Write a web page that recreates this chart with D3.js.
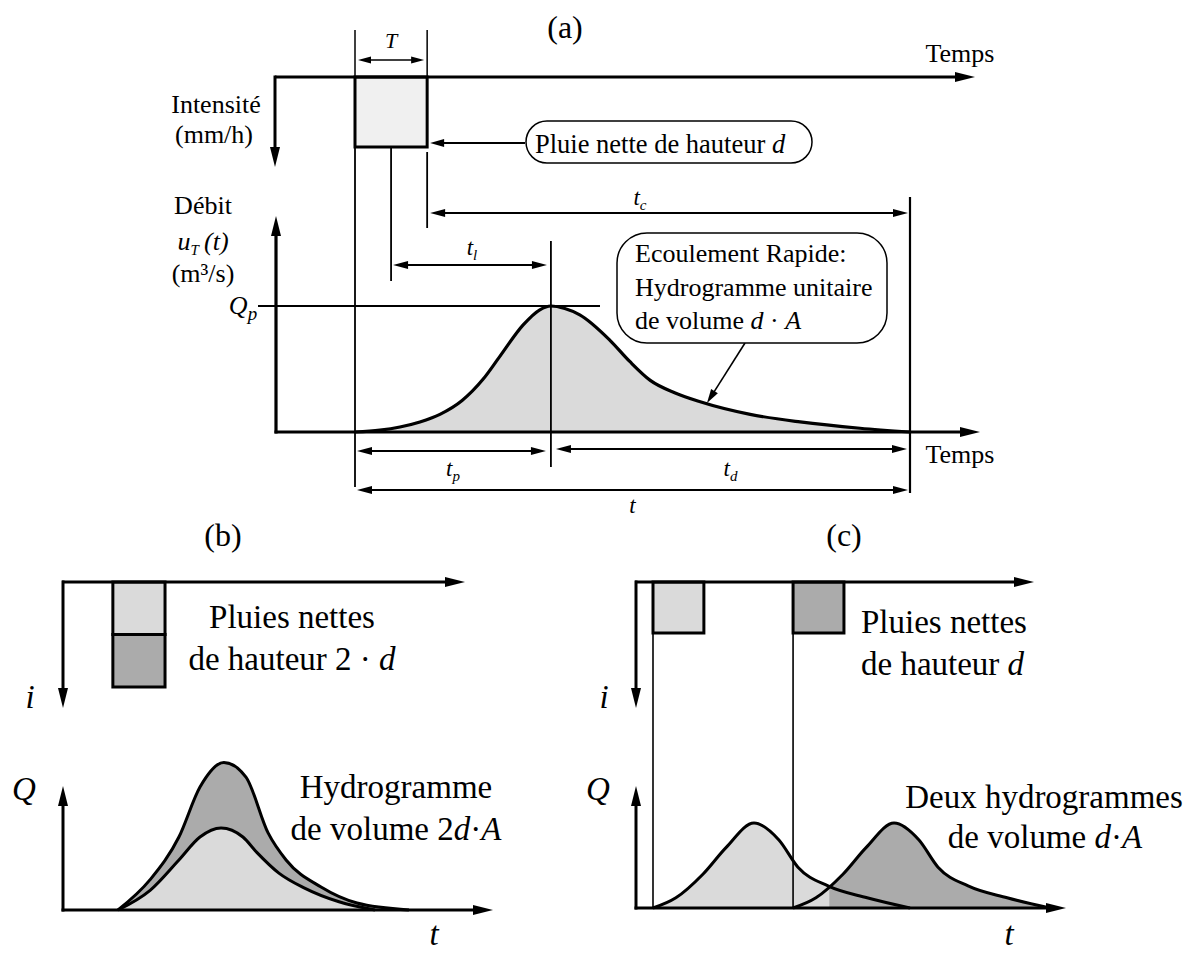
<!DOCTYPE html>
<html>
<head>
<meta charset="utf-8">
<script src="https://cdn.jsdelivr.net/npm/d3@7"></script>
<style>
  body { margin: 0; background: #fff; }
  text { font-family: "Liberation Serif", "DejaVu Serif", serif; fill: #000; }
</style>
</head>
<body>
<div id="chart"></div>
<script>
// ---- data (time in % of the unit hydrograph base, flow relative to unit peak) ----
// (a) unit hydrograph
const unitTime = [0, 4.5, 8.1, 11.7, 15.3, 19.3, 23.1, 26.1, 30.3, 33.3, 35.3, 37.8, 40.5, 45.9, 49.5, 53.2, 57.7, 62.2, 71.2, 80.2, 91, 100];
const unitFlow = [0, 0.015, 0.04, 0.08, 0.14, 0.25, 0.42, 0.60, 0.85, 0.97, 1, 0.98, 0.93, 0.73, 0.56, 0.41, 0.31, 0.24, 0.14, 0.08, 0.03, 0];
const rainA = [0, 13];          // start, end of net rain
const peakA = 35.3;             // time of peak

// (b) rain of depth 2d -> hydrograph of volume 2d·A
const singleTimeB = [0, 12.5, 23.7, 31.9, 40.1, 48.6, 54.1, 62.6, 72.4, 86, 100];
const singleFlowB = [0, 0.24, 0.61, 0.89, 1, 0.89, 0.70, 0.45, 0.27, 0.10, 0];
const doubleTimeB = [0, 12.5, 23.7, 31.9, 41.2, 49.8, 58.4, 65.4, 79, 93, 113.2];
const doubleFlowB = [0, 0.37, 0.89, 1.5, 1.8, 1.62, 0.94, 0.61, 0.28, 0.085, 0];
const rainB = [-2, 18.3];
const rainDepthB = [1, 2];

// (c) two rains of depth d -> two hydrographs of volume d·A
const unitTimeC = [0, 8.9, 19.5, 28.4, 39.3, 49, 56.4, 68.1, 83.3, 100];
const unitFlowC = [0, 0.12, 0.40, 0.71, 1, 0.80, 0.48, 0.26, 0.12, 0];
const rainStartC = [0, 54.5];
const rainLenC = 19.8;

const light = "#dadada", dark = "#ababab";

const svg = d3.select("#chart").append("svg")
  .attr("width", 1197).attr("height", 953);

// ---- helpers ----
function head(g, x1, y1, x2, y2, len, half) {
  const a = Math.atan2(y2 - y1, x2 - x1);
  const c = Math.cos(a), s = Math.sin(a);
  const p = [[x2, y2],
    [x2 - len * c + half * s, y2 - len * s - half * c],
    [x2 - len * c - half * s, y2 - len * s + half * c]];
  g.append("path").attr("d", "M" + p.join("L") + "Z").attr("fill", "#000");
}
function arrow(g, x1, y1, x2, y2, o = {}) {
  const w = o.w || 1.8, len = o.len || 14, half = o.half || 4;
  const a = Math.atan2(y2 - y1, x2 - x1);
  const c = Math.cos(a), s = Math.sin(a);
  const sx = o.both ? x1 + (len - 2) * c : x1, sy = o.both ? y1 + (len - 2) * s : y1;
  g.append("line")
    .attr("x1", sx).attr("y1", sy)
    .attr("x2", x2 - (len - 2) * c).attr("y2", y2 - (len - 2) * s)
    .attr("stroke", "#000").attr("stroke-width", w);
  head(g, x1, y1, x2, y2, len, half);
  if (o.both) head(g, x2, y2, x1, y1, len, half);
}
function line(g, x1, y1, x2, y2, w = 1.8) {
  g.append("line").attr("x1", x1).attr("y1", y1).attr("x2", x2).attr("y2", y2)
    .attr("stroke", "#000").attr("stroke-width", w);
}
// segments: [text, italic?, dy?, size?]
function rich(g, x, y, segs, size, anchor = "middle") {
  const t = g.append("text").attr("x", x).attr("y", y)
    .attr("font-size", size).attr("text-anchor", anchor);
  segs.forEach(s => {
    const ts = t.append("tspan").text(s[0]);
    if (s[1]) ts.attr("font-style", "italic");
    if (s[2]) ts.attr("dy", s[2]);
    if (s[3]) ts.attr("font-size", s[3]);
  });
  return t;
}
function sub(g, x, y, base, idx) {
  rich(g, x, y, [[base, true], [idx, true, 5, 15], ["", false, -5]], 23);
}

// ================= panel (a) =================
const gA = svg.append("g");
const xA = d3.scaleLinear().domain([0, 100]).range([355, 910]);
const yA = d3.scaleLinear().domain([0, 1]).range([432, 306]);
const iA = d3.scaleLinear().domain([0, 1]).range([77, 147]);

const areaA = d3.area().curve(d3.curveMonotoneX)
  .x((d, i) => xA(unitTime[i])).y0(yA(0)).y1(d => yA(d));
const lineA = d3.line().curve(d3.curveMonotoneX)
  .x((d, i) => xA(unitTime[i])).y(d => yA(d));

gA.append("path").attr("d", areaA(unitFlow)).attr("fill", light);

rich(gA, 565, 38, [["(a)"]], 32);

// rain block
gA.append("rect")
  .attr("x", xA(rainA[0])).attr("y", iA(0))
  .attr("width", xA(rainA[1]) - xA(rainA[0])).attr("height", iA(1) - iA(0))
  .attr("fill", "#f0f0f0").attr("stroke", "#000").attr("stroke-width", 3);

// T dimension
line(gA, xA(rainA[0]), 30, xA(rainA[0]), iA(0), 1.5);
line(gA, xA(rainA[1]), 30, xA(rainA[1]), iA(0), 1.5);
arrow(gA, xA(rainA[0]) + 3, 60, xA(rainA[1]) - 3, 60, { both: true, len: 13, half: 3.5, w: 1.5 });
rich(gA, (xA(rainA[0]) + xA(rainA[1])) / 2, 48, [["T", true]], 22);

// top (intensity) axes
arrow(gA, 275, iA(0), 975, iA(0), { w: 3, len: 20, half: 5 });
arrow(gA, 275, iA(0) - 1.5, 275, 167, { w: 3, len: 20, half: 5 });
rich(gA, 960, 62, [["Temps"]], 26);
rich(gA, 216, 113, [["Intensité"]], 26);
rich(gA, 214, 143, [["(mm/h)"]], 26);

// guide lines below rain block
const rainMid = (rainA[0] + rainA[1]) / 2;
line(gA, xA(rainA[0]), iA(1), xA(rainA[0]), 487);
line(gA, xA(rainMid), iA(1), xA(rainMid), 281);
line(gA, xA(rainA[1]), iA(1) + 5, xA(rainA[1]), 228);

// "Pluie nette" label
arrow(gA, 525, 143, xA(rainA[1]) + 3, 143, { w: 1.8, len: 14, half: 4 });
gA.append("rect").attr("x", 526).attr("y", 121).attr("width", 286).attr("height", 42)
  .attr("rx", 21).attr("fill", "#fff").attr("stroke", "#000").attr("stroke-width", 1.5);
rich(gA, 535, 153, [["Pluie nette de hauteur "], ["d", true]], 26.5, "start");

// t_c
arrow(gA, xA(rainA[1]) + 3, 213, xA(100) - 2, 213, { both: true, len: 15, half: 4 });
sub(gA, 640, 205, "t", "c");
line(gA, xA(100), 197, xA(100), 493, 2.2);

// t_l
arrow(gA, xA(rainMid) + 2, 265, xA(peakA) - 4, 265, { both: true, len: 15, half: 4 });
sub(gA, 472, 255, "t", "l");

// peak line and Q_p
line(gA, xA(peakA), 241, xA(peakA), 467);
line(gA, 258, yA(1), 600, yA(1));
rich(gA, 243, 314, [["Q", true], ["p", true, 6, 19]], 26);

// flow axes
arrow(gA, 276, yA(0) + 1.5, 276, 216, { w: 3.2, len: 20, half: 5 });
arrow(gA, 274.5, yA(0), 980, yA(0), { w: 3.2, len: 20, half: 5 });
rich(gA, 203, 214, [["Débit"]], 26);
rich(gA, 203, 250, [["u", true], ["T", true, 5, 15], ["\u2009(t)", true, -5]], 26);
rich(gA, 203, 282, [["(m³/s)"]], 26);
rich(gA, 960, 463, [["Temps"]], 26);

// hydrograph outline
gA.append("path").attr("d", lineA(unitFlow))
  .attr("fill", "none").attr("stroke", "#000").attr("stroke-width", 3.2);

// callout
arrow(gA, 745, 343, 707, yA(0.23), { w: 1.6, len: 14, half: 4 });
gA.append("rect").attr("x", 617).attr("y", 233).attr("width", 270).attr("height", 110)
  .attr("rx", 30).attr("fill", "#fff").attr("stroke", "#000").attr("stroke-width", 1.5);
rich(gA, 635, 262, [["Ecoulement Rapide:"]], 26, "start");
rich(gA, 635, 296, [["Hydrogramme unitaire"]], 26, "start");
rich(gA, 635, 329, [["de volume  "], ["d", true], [" · "], ["A", true]], 26, "start");

// bottom dimensions
arrow(gA, xA(0) + 2, 451, xA(peakA) - 5, 451, { both: true, len: 15, half: 4 });
sub(gA, (xA(0) + xA(peakA)) / 2, 476, "t", "p");
arrow(gA, xA(peakA) + 5, 449, xA(100) - 3, 449, { both: true, len: 15, half: 4 });
sub(gA, (xA(peakA) + xA(100)) / 2, 476, "t", "d");
arrow(gA, xA(0) + 2, 490, xA(100) - 2, 490, { both: true, len: 15, half: 4 });
rich(gA, (xA(0) + xA(100)) / 2, 513, [["t", true]], 23);

// ================= panel (b) =================
const gB = svg.append("g");
const xB = d3.scaleLinear().domain([0, 100]).range([118, 375]);
const yB = d3.scaleLinear().domain([0, 1]).range([910, 828]);
const iB = d3.scaleLinear().domain([0, 1]).range([582, 634.5]);

rich(gB, 223, 546, [["(b)"]], 32);

const areaB = (T) => d3.area().curve(d3.curveMonotoneX)
  .x((d, i) => xB(T[i])).y0(yB(0)).y1(d => yB(d));
const lineB = (T) => d3.line().curve(d3.curveMonotoneX)
  .x((d, i) => xB(T[i])).y(d => yB(d));

gB.append("path").attr("d", areaB(doubleTimeB)(doubleFlowB)).attr("fill", dark);
gB.append("path").attr("d", areaB(singleTimeB)(singleFlowB)).attr("fill", light);
gB.append("path").attr("d", lineB(doubleTimeB)(doubleFlowB))
  .attr("fill", "none").attr("stroke", "#000").attr("stroke-width", 3);
gB.append("path").attr("d", lineB(singleTimeB)(singleFlowB))
  .attr("fill", "none").attr("stroke", "#000").attr("stroke-width", 3);

// rain blocks (stacked)
rainDepthB.forEach((d, k) => {
  gB.append("rect")
    .attr("x", xB(rainB[0])).attr("y", iB(d - 1))
    .attr("width", xB(rainB[1]) - xB(rainB[0])).attr("height", iB(d) - iB(d - 1))
    .attr("fill", k === 0 ? light : dark).attr("stroke", "#000").attr("stroke-width", 3);
});

arrow(gB, 62, 582, 465, 582, { w: 3, len: 20, half: 5 });
arrow(gB, 63, 580.5, 63, 708, { w: 3, len: 20, half: 5 });
arrow(gB, 63, yB(0) + 1.5, 63, 786, { w: 3, len: 20, half: 5 });
arrow(gB, 61.5, yB(0), 493, yB(0), { w: 3, len: 20, half: 5 });

rich(gB, 30, 708, [["i", true]], 33);
rich(gB, 24, 800, [["Q", true]], 33);
rich(gB, 292, 628, [["Pluies nettes"]], 33);
rich(gB, 292, 670, [["de hauteur 2 · "], ["d", true]], 33);
rich(gB, 396, 798, [["Hydrogramme"]], 33);
rich(gB, 396, 840, [["de volume 2"], ["d", true], ["·"], ["A", true]], 33);
rich(gB, 434, 945, [["t", true]], 33);

// ================= panel (c) =================
const gC = svg.append("g");
const xC = d3.scaleLinear().domain([0, 100]).range([653, 910]);
const yC = d3.scaleLinear().domain([0, 1]).range([908, 823]);
const iC = d3.scaleLinear().domain([0, 1]).range([582, 633]);

rich(gC, 844, 546, [["(c)"]], 32);

const areaC = (off) => d3.area().curve(d3.curveMonotoneX)
  .x((d, i) => xC(unitTimeC[i] + off)).y0(yC(0)).y1(d => yC(d));
const lineC = (off) => d3.line().curve(d3.curveMonotoneX)
  .x((d, i) => xC(unitTimeC[i] + off)).y(d => yC(d));

// crossing of the two hydrographs
const f1 = d3.scaleLinear().domain(unitTimeC.map(t => t + rainStartC[0])).range(unitFlowC).clamp(true);
const f2 = d3.scaleLinear().domain(unitTimeC.map(t => t + rainStartC[1])).range(unitFlowC).clamp(true);
let cross = rainStartC[1];
while (cross < 100 && f1(cross) > f2(cross)) cross += 0.1;

gC.append("clipPath").attr("id", "leftOfCross").append("rect")
  .attr("x", 0).attr("y", 0).attr("width", xC(cross)).attr("height", 953);

gC.append("path").attr("d", areaC(rainStartC[1])(unitFlowC)).attr("fill", dark);
gC.append("path").attr("d", areaC(rainStartC[0])(unitFlowC)).attr("fill", light)
  .attr("clip-path", "url(#leftOfCross)");

rainStartC.forEach((s, k) => {
  line(gC, xC(s), iC(1), xC(s), yC(0), 1.6);
  gC.append("path").attr("d", lineC(s)(unitFlowC))
    .attr("fill", "none").attr("stroke", "#000").attr("stroke-width", 3);
  gC.append("rect")
    .attr("x", xC(s)).attr("y", iC(0))
    .attr("width", xC(s + rainLenC) - xC(s)).attr("height", iC(1) - iC(0))
    .attr("fill", k === 0 ? light : dark).attr("stroke", "#000").attr("stroke-width", 3);
});

arrow(gC, 635, 582, 1034, 582, { w: 3, len: 20, half: 5 });
arrow(gC, 636, 580.5, 636, 708, { w: 3, len: 20, half: 5 });
arrow(gC, 636, yC(0) + 1.5, 636, 786, { w: 3, len: 20, half: 5 });
arrow(gC, 634.5, yC(0), 1066, yC(0), { w: 3, len: 20, half: 5 });

rich(gC, 604, 708, [["i", true]], 33);
rich(gC, 598, 800, [["Q", true]], 33);
rich(gC, 861, 633, [["Pluies nettes"]], 33, "start");
rich(gC, 861, 675, [["de hauteur "], ["d", true]], 33, "start");
rich(gC, 1044, 808, [["Deux hydrogrammes"]], 33);
rich(gC, 1045, 848, [["de volume "], ["d", true], ["·"], ["A", true]], 33);
rich(gC, 1009, 945, [["t", true]], 33);
</script>
</body>
</html>
